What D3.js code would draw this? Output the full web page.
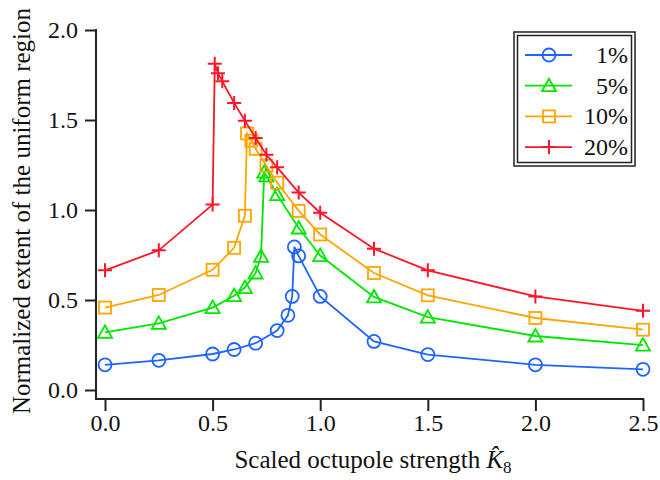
<!DOCTYPE html>
<html>
<head>
<meta charset="utf-8">
<script src="https://cdn.jsdelivr.net/npm/d3@7"></script>
<style>
  html, body { margin: 0; padding: 0; background: #fff; }
  svg { display: block; font-family: "Liberation Serif", "Times New Roman", serif; }
</style>
</head>
<body>
<svg id="chart" width="660" height="480"></svg>
<script>
// ---- data ----
const seriesNames = ["1%", "5%", "10%", "20%"];
const x1  = [0, 0.25, 0.5, 0.6, 0.7, 0.8, 0.85, 0.87, 0.88, 0.9, 1.0, 1.25, 1.5, 2.0, 2.5];
const y1  = [0.14, 0.165, 0.2, 0.225, 0.26, 0.33, 0.415, 0.52, 0.795, 0.745, 0.52, 0.27, 0.197, 0.14, 0.115];
const x5  = [0, 0.25, 0.5, 0.6, 0.65, 0.7, 0.725, 0.74, 0.75, 0.8, 0.9, 1.0, 1.25, 1.5, 2.0, 2.5];
const y5  = [0.32, 0.37, 0.458, 0.524, 0.569, 0.65, 0.742, 1.21, 1.19, 1.085, 0.90, 0.747, 0.517, 0.405, 0.30, 0.249];
const x10 = [0, 0.25, 0.5, 0.6, 0.65, 0.66, 0.68, 0.70, 0.75, 0.8, 0.9, 1.0, 1.25, 1.5, 2.0, 2.5];
const y10 = [0.458, 0.528, 0.668, 0.79, 0.968, 1.425, 1.385, 1.34, 1.246, 1.152, 0.995, 0.864, 0.65, 0.526, 0.40, 0.335];
const x20 = [0, 0.25, 0.5, 0.51, 0.525, 0.545, 0.6, 0.65, 0.7, 0.75, 0.8, 0.9, 1.0, 1.25, 1.5, 2.0, 2.5];
const y20 = [0.665, 0.776, 1.03, 1.813, 1.76, 1.715, 1.595, 1.496, 1.40, 1.307, 1.237, 1.097, 0.985, 0.785, 0.665, 0.52, 0.44];
const xTicks = [0, 0.5, 1.0, 1.5, 2.0, 2.5];
const yTicks = [0, 0.5, 1.0, 1.5, 2.0];

const colors = ["#1e64ff", "#00e600", "#ffa500", "#ff1428"];
const markers = ["circle", "triangle", "square", "plus"];
const xs = [x1, x5, x10, x20];
const ys = [y1, y5, y10, y20];

// ---- scales ----
const svg = d3.select("#chart");
const x = d3.scaleLinear().domain([0, 2.5]).range([105, 643]);
const y = d3.scaleLinear().domain([0, 2.0]).range([390, 30]);
const axisColor = "#222";
const fontFam = "'Liberation Serif', 'Times New Roman', serif";

// ---- axes ----
const xAxisG = svg.append("g").attr("transform", "translate(0,399)")
  .call(d3.axisBottom(x).tickValues(xTicks).tickFormat(d3.format(".1f")).tickSize(12).tickSizeOuter(0));
const yAxisG = svg.append("g").attr("transform", "translate(96,0)")
  .call(d3.axisLeft(y).tickValues(yTicks).tickFormat(d3.format(".1f")).tickSize(11).tickSizeOuter(0));
[xAxisG, yAxisG].forEach(g => {
  g.select(".domain").remove();
  g.selectAll(".tick line").attr("stroke", axisColor).attr("stroke-width", 2);
  g.selectAll(".tick text").attr("fill", "#111").style("font-size", "24px")
    .style("font-family", fontFam);
});
xAxisG.selectAll(".tick text").attr("dy", null).attr("y", 32);
yAxisG.selectAll(".tick text").attr("x", -18).attr("dy", "0.33em");
// axis lines
svg.append("line").attr("x1", 95).attr("x2", x(2.5) + 1).attr("y1", 399).attr("y2", 399)
  .attr("stroke", axisColor).attr("stroke-width", 2);
svg.append("line").attr("x1", 96).attr("x2", 96).attr("y1", y(2.0) - 1).attr("y2", 400)
  .attr("stroke", axisColor).attr("stroke-width", 2);

// ---- axis titles ----
const xt = svg.append("text").attr("x", 373).attr("y", 468).attr("text-anchor", "middle")
  .style("font-size", "25px").style("font-family", fontFam).attr("fill", "#111");
xt.append("tspan").text("Scaled octupole strength ");
xt.append("tspan").style("font-style", "italic").text("K\u0302");
xt.append("tspan").attr("dy", 5).style("font-size", "17px").text("8");

svg.append("text").attr("transform", "translate(30,211) rotate(-90)")
  .attr("text-anchor", "middle").style("font-size", "25px").style("font-family", fontFam)
  .attr("fill", "#111")
  .text("Normalized extent of the uniform region");

// ---- marker drawing ----
function drawMarker(g, type, cx, cy, color) {
  const s = 6.5;
  if (type === "circle") {
    g.append("circle").attr("cx", cx).attr("cy", cy).attr("r", s)
      .attr("fill", "none").attr("stroke", color).attr("stroke-width", 1.8);
  } else if (type === "triangle") {
    g.append("path").attr("d", `M${cx},${cy - 7} L${cx + 7},${cy + 5.5} L${cx - 7},${cy + 5.5} Z`)
      .attr("fill", "none").attr("stroke", color).attr("stroke-width", 1.8);
  } else if (type === "square") {
    g.append("rect").attr("x", cx - 6).attr("y", cy - 6).attr("width", 12).attr("height", 12)
      .attr("fill", "none").attr("stroke", color).attr("stroke-width", 1.8);
  } else {
    g.append("path").attr("d", `M${cx - 7},${cy} L${cx + 7},${cy} M${cx},${cy - 7} L${cx},${cy + 7}`)
      .attr("fill", "none").attr("stroke", color).attr("stroke-width", 2);
  }
}

// ---- series ----
const line = d3.line().x(d => x(d[0])).y(d => y(d[1]));
xs.forEach((xv, i) => {
  const pts = xv.map((v, j) => [v, ys[i][j]]);
  const g = svg.append("g");
  g.append("path").datum(pts).attr("d", line).attr("fill", "none")
    .attr("stroke", colors[i]).attr("stroke-width", 1.8);
  pts.forEach(p => drawMarker(g, markers[i], x(p[0]), y(p[1]), colors[i]));
});

// ---- legend ----
const lg = svg.append("g");
lg.append("rect").attr("x", 514).attr("y", 32).attr("width", 121).attr("height", 134)
  .attr("fill", "#fff").attr("stroke", "#222").attr("stroke-width", 1.5);
lg.append("rect").attr("x", 517.5).attr("y", 35.5).attr("width", 114).attr("height", 127)
  .attr("fill", "none").attr("stroke", "#222").attr("stroke-width", 1.5);
seriesNames.forEach((name, i) => {
  const ly = 55 + i * 30.7;
  lg.append("line").attr("x1", 525).attr("x2", 572).attr("y1", ly).attr("y2", ly)
    .attr("stroke", colors[i]).attr("stroke-width", 1.8);
  drawMarker(lg, markers[i], 549, ly, colors[i]);
  lg.append("text").attr("x", 628).attr("y", ly + 8).attr("text-anchor", "end")
    .style("font-size", "24px").style("font-family", fontFam).attr("fill", "#111").text(name);
});
</script>
</body>
</html>
